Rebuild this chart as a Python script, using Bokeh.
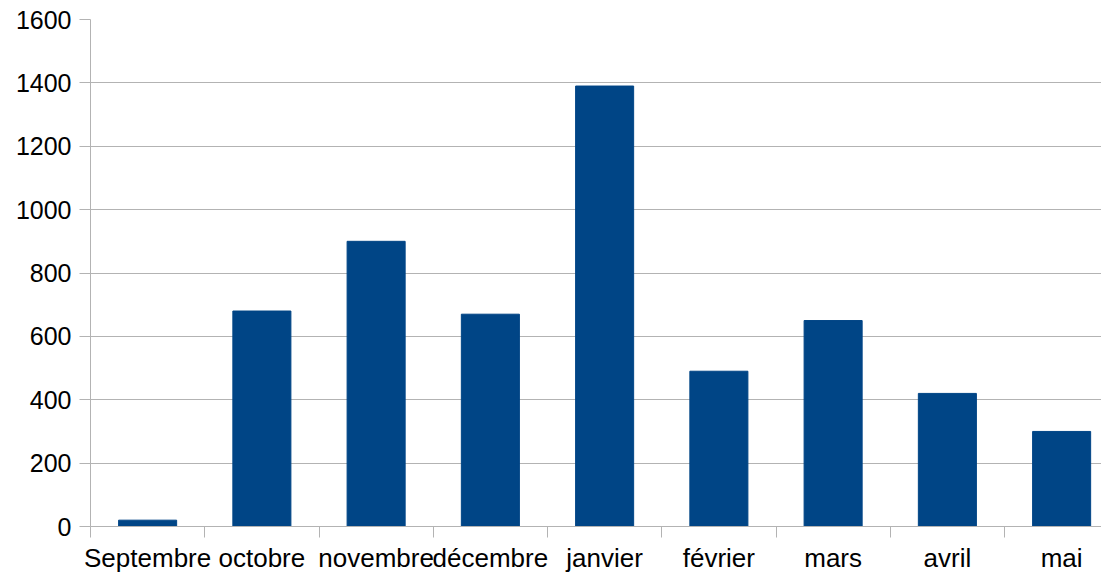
from bokeh.plotting import figure
from bokeh.models import Range1d, FixedTicker, ColumnDataSource
from bokeh.embed import file_html
from bokeh.resources import INLINE

months = ["Septembre", "octobre", "novembre", "décembre", "janvier", "février", "mars", "avril", "mai"]
values = [20, 680, 900, 670, 1390, 490, 650, 420, 300]
y_ticks = [0, 200, 400, 600, 800, 1000, 1200, 1400, 1600]

xs = [i + 0.5 for i in range(len(months))]
src = ColumnDataSource(dict(x=xs, top=values))

p = figure(width=1101, height=579, output_backend="svg", toolbar_location=None,
           x_range=Range1d(0, 8.849), y_range=Range1d(0, 1600),
           min_border_left=90, min_border_right=0, min_border_top=19, min_border_bottom=53)
p.outline_line_color = None
p.background_fill_color = "white"
p.border_fill_color = "white"

p.vbar(x="x", top="top", width=0.508, source=src, color="#004586")

grey = "#b3b3b3"
font = "Liberation Sans"

p.xgrid.grid_line_color = None
p.ygrid.grid_line_color = grey
p.ygrid.grid_line_width = 1
p.ygrid.ticker = FixedTicker(ticks=y_ticks)

ya = p.yaxis[0]
ya.ticker = FixedTicker(ticks=y_ticks)
ya.axis_line_color = grey
ya.major_tick_line_color = grey
ya.major_tick_out = 11
ya.major_tick_in = 0
ya.minor_tick_line_color = None
ya.major_label_text_font = font
ya.major_label_text_font_size = "25px"
ya.major_label_text_color = "#000000"
ya.major_label_standoff = 8

xa = p.xaxis[0]
xa.ticker = FixedTicker(ticks=xs, minor_ticks=list(range(len(months) + 1)))
xa.major_label_overrides = {x: m for x, m in zip(xs, months)}
xa.axis_line_color = grey
xa.major_tick_line_color = None
xa.major_tick_out = 0
xa.major_tick_in = 0
xa.minor_tick_line_color = grey
xa.minor_tick_out = 11
xa.minor_tick_in = 0
xa.major_label_text_font = font
xa.major_label_text_font_size = "26px"
xa.major_label_text_color = "#000000"
xa.major_label_standoff = 5

open("out.html", "w").write(file_html(p, INLINE))
